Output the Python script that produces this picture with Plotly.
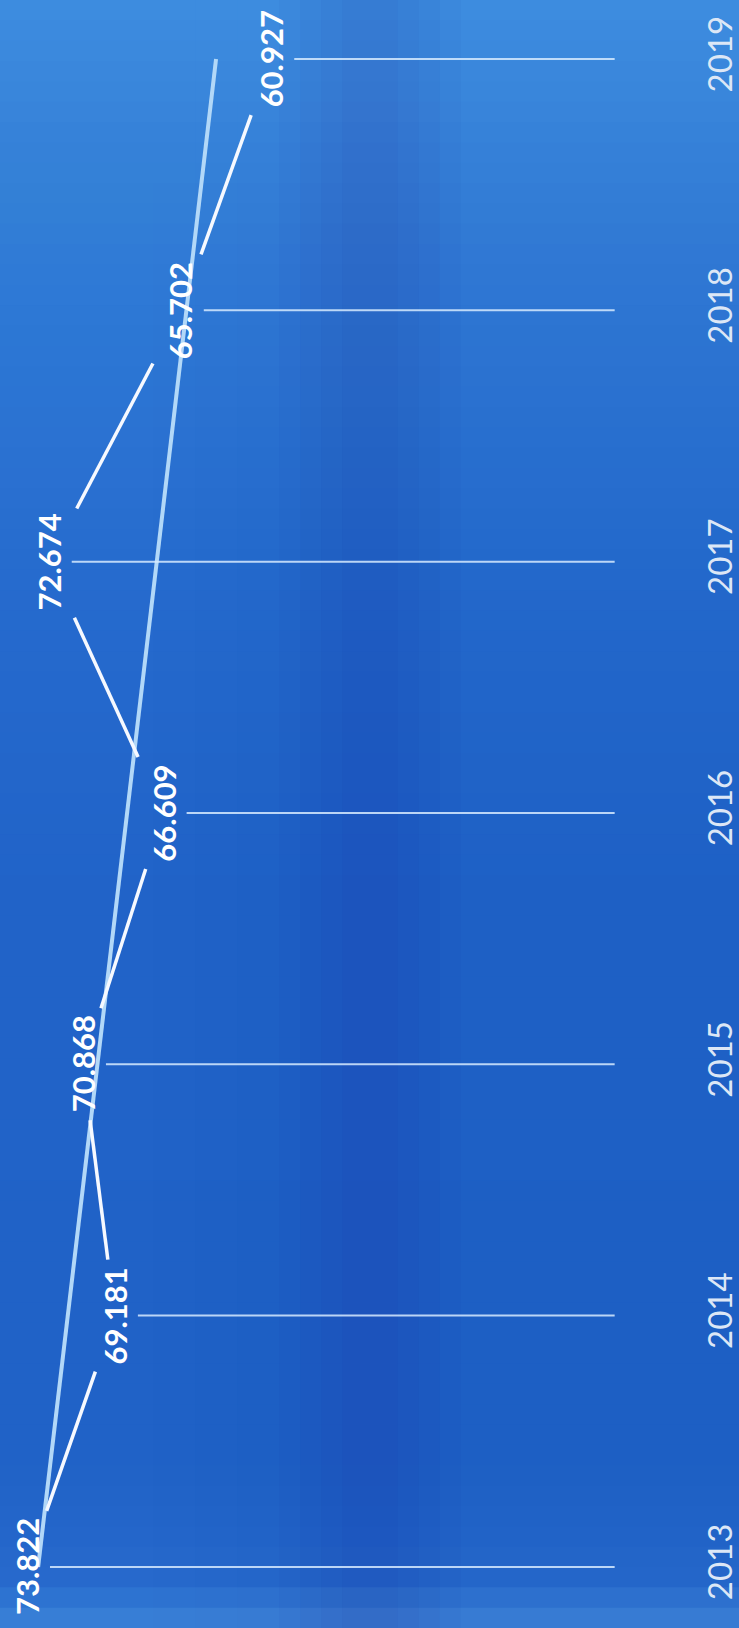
import numpy as np
import plotly.graph_objects as go

# ---- data ----
years = [2013, 2014, 2015, 2016, 2017, 2018, 2019]
values = [73.822, 69.181, 70.868, 66.609, 72.674, 65.702, 60.927]
value_labels = ["73.822", "69.181", "70.868", "66.609", "72.674", "65.702", "60.927"]
year_labels = ["2013", "2014", "2015", "2016", "2017", "2018", "2019"]

# ---- layout constants (style) ----
W, H = 739, 1628
M_R = 39
X_RANGE = [75.25, 38.4]          # reversed value axis
Y_RANGE = [2012.757, 2019.235]
plot_w = W - M_R
px_per_val = plot_w / (X_RANGE[0] - X_RANGE[1])
px_per_year = H / (Y_RANGE[1] - Y_RANGE[0])
GAP_HW, GAP_HH = 28, 56          # label knock-out half sizes (px)
DROP_START_PX = 23
DROP_END_VAL = 42.8

fig = go.Figure()

# trend line (linear fit of the data)
idx = np.arange(len(years))
slope, icpt = np.polyfit(idx, values, 1)
trend_y = [years[0], years[-1]]
trend_x = [icpt, icpt + slope * idx[-1]]
fig.add_trace(go.Scatter(x=trend_x, y=trend_y, mode="lines",
                         line=dict(color="#b2d8f8", width=4), hoverinfo="skip"))

# zig-zag data line with gaps around each label
seg_x, seg_y = [], []
for i in range(len(years) - 1):
    x0, y0, x1, y1 = values[i], years[i], values[i + 1], years[i + 1]
    dxp = (x0 - x1) * px_per_val
    dyp = (y1 - y0) * px_per_year
    tx = GAP_HW / abs(dxp) if dxp != 0 else 1e9
    ty = GAP_HH / abs(dyp)
    t = min(tx, ty)
    seg_x += [x0 + (x1 - x0) * t, x1 - (x1 - x0) * t, None]
    seg_y += [y0 + (y1 - y0) * t, y1 - (y1 - y0) * t, None]
fig.add_trace(go.Scatter(x=seg_x, y=seg_y, mode="lines",
                         line=dict(color="#f6f9ff", width=3.5), hoverinfo="skip"))

# drop lines from each label toward the year axis
dx_, dy_ = [], []
for v, yr in zip(values, years):
    dx_ += [v - DROP_START_PX / px_per_val, DROP_END_VAL, None]
    dy_ += [yr, yr, None]
fig.add_trace(go.Scatter(x=dx_, y=dy_, mode="lines",
                         line=dict(color="rgba(215,235,255,0.85)", width=2), hoverinfo="skip"))

# value labels
for v, yr, lab in zip(values, years, value_labels):
    fig.add_annotation(x=v, y=yr, text=lab, showarrow=False, textangle=-90,
                       font=dict(family="Lato", size=31, color="#ffffff", weight="bold"),
                       xanchor="center", yanchor="middle")

# background: vertical gradient built from strips
stops = [(0.0, (0x3c, 0x80, 0xd6)), (0.03, (0x24, 0x66, 0xc9)), (0.10, (0x1d, 0x5f, 0xc4)),
         (0.45, (0x1e, 0x60, 0xc5)), (0.65, (0x23, 0x68, 0xcb)), (0.85, (0x30, 0x79, 0xd4)),
         (1.0, (0x3e, 0x8d, 0xdf))]
N = 80
for k in range(N):
    a, b = k / N, (k + 1) / N
    m = (a + b) / 2
    for j in range(len(stops) - 1):
        if stops[j][0] <= m <= stops[j + 1][0]:
            f = (m - stops[j][0]) / (stops[j + 1][0] - stops[j][0])
            c = [round(stops[j][1][n] + (stops[j + 1][1][n] - stops[j][1][n]) * f) for n in range(3)]
            break
    fig.add_shape(type="rect", xref="paper", yref="paper", x0=-0.01, x1=1.07, y0=a, y1=b + 0.002,
                  fillcolor="rgb(%d,%d,%d)" % tuple(c), line_width=0, layer="below")
# soft darker vertical band in the middle
for (bx0, bx1) in [(0.40, 0.66), (0.43, 0.63), (0.46, 0.60), (0.49, 0.57)]:
    fig.add_shape(type="rect", xref="paper", yref="paper", x0=bx0, x1=bx1, y0=0, y1=1,
                  fillcolor="rgba(25,35,140,0.035)", line_width=0, layer="below")
# slightly lighter left column (soft)
for (bx0, bx1) in [(0.0, 0.34), (0.0, 0.28), (0.0, 0.22)]:
    fig.add_shape(type="rect", xref="paper", yref="paper", x0=bx0, x1=bx1, y0=0, y1=1,
                  fillcolor="rgba(80,150,240,0.025)", line_width=0, layer="below")

fig.update_layout(
    width=W, height=H,
    margin=dict(l=0, r=M_R, t=0, b=0),
    paper_bgcolor="#1f62c6", plot_bgcolor="rgba(0,0,0,0)",
    showlegend=False,
    xaxis=dict(range=X_RANGE, showgrid=False, zeroline=False, showticklabels=False,
               showline=False, ticks=""),
    yaxis=dict(range=Y_RANGE, side="right", tickmode="array", tickvals=years,
               ticktext=year_labels, tickangle=-90, showgrid=False, zeroline=False,
               showline=False, ticks="",
               tickfont=dict(family="Lato", size=33, color="#dce7f6")),
)

fig.write_html("out.html", config={"displayModeBar": False},
               post_script="document.body.style.margin='0';document.body.style.background='#1f62c6';")
